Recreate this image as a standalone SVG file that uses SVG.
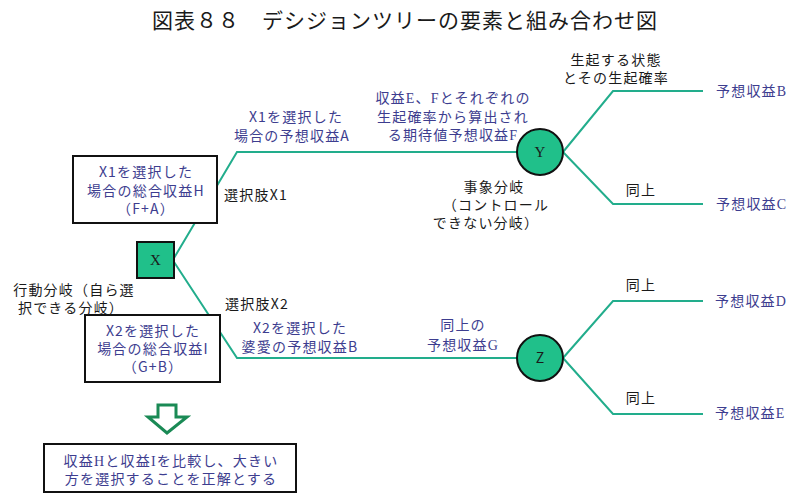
<svg xmlns="http://www.w3.org/2000/svg" width="800" height="495" viewBox="0 0 800 495">
<style>
text{font-family:"Noto Sans CJK JP","Noto Sans",sans-serif;font-size:14px;letter-spacing:1.2px;}
.b{fill:#3d3d8f;}
.k{fill:#1a1a1a;}
.m{text-anchor:middle;}
.s{font-family:"Liberation Serif",serif;}
.ln{fill:none;stroke:#22ad8c;stroke-width:2;}
.node{fill:#20c08a;stroke:#111;stroke-width:2;}
.box{fill:#fff;stroke:#111;stroke-width:2;}
</style>
<rect width="800" height="495" fill="#fff"/>
<text x="405" y="28" class="m k" style="font-size:21px;letter-spacing:1px">図表８８　デシジョンツリーの要素と組み合わせ図</text>
<g id="connectors">
<polyline class="ln" points="174,258 237,152 517,152"/>
<polyline class="ln" points="174,262 237,358 517,358"/>
<polyline class="ln" points="563,152 613,91 703,91"/>
<polyline class="ln" points="563,152 613,204 703,204"/>
<polyline class="ln" points="563,358 613,301 703,301"/>
<polyline class="ln" points="563,358 613,414 703,414"/>
</g>
<g id="nodeX">
<rect class="node" x="137" y="242" width="37" height="36"/>
<text x="155.5" y="265" class="m k s" style="font-size:15px;letter-spacing:0">X</text>
</g>
<g id="nodeY">
<circle class="node" cx="540" cy="152" r="23"/>
<text x="540" y="157" class="m k s" style="font-size:15px;letter-spacing:0">Y</text>
</g>
<g id="nodeZ">
<circle class="node" cx="540" cy="358" r="23"/>
<text x="540" y="363" class="m k" style="letter-spacing:0">Z</text>
</g>
<g id="boxH">
<rect class="box" x="73" y="156" width="144" height="67"/>
<text x="146" y="177" class="m b">X1を選択した</text>
<text x="146" y="196" class="m b">場合の総合収益H</text>
<text x="146" y="214" class="m b">（F+A）</text>
</g>
<g id="boxI">
<rect class="box" x="85" y="315" width="135" height="67"/>
<text x="153" y="336" class="m b">X2を選択した</text>
<text x="153" y="354" class="m b">場合の総合収益I</text>
<text x="153" y="372" class="m b">（G+B）</text>
</g>
<g id="arrow">
<path d="M158,405 H176 V417 H187 L167,433 L148,417 H158 Z" fill="#fff" stroke="#1a8a55" stroke-width="3" stroke-linejoin="miter"/>
</g>
<g id="conclusion">
<rect class="box" x="44" y="444" width="252" height="48"/>
<text x="171" y="466" class="m b">収益<tspan class="s">H</tspan>と収益<tspan class="s">I</tspan>を比較し、大きい</text>
<text x="171" y="484" class="m b">方を選択することを正解とする</text>
</g>
<g id="labels">
<text x="296" y="122" class="m b">X1を選択した</text>
<text x="292" y="141" class="m b">場合の予想収益A</text>
<text x="453" y="103" class="m b">収益<tspan class="s">E</tspan>、<tspan class="s">F</tspan>とそれぞれの</text>
<text x="453" y="122" class="m b">生起確率から算出され</text>
<text x="453" y="140" class="m b">る期待値予想収益<tspan class="s">F</tspan></text>
<text x="256" y="200" class="m k">選択肢X1</text>
<text x="257" y="309" class="m k">選択肢X2</text>
<text x="74" y="295" class="m k">行動分岐（自ら選</text>
<text x="71" y="313" class="m k">択できる分岐）</text>
<text x="300" y="333" class="m b">X2を選択した</text>
<text x="300" y="352" class="m b">婆愛の予想収益B</text>
<text x="463" y="330" class="m b">同上の</text>
<text x="463" y="350" class="m b">予想収益<tspan class="s">G</tspan></text>
<text x="494" y="192" class="m k">事象分岐</text>
<text x="496" y="210" class="m k">（コントロール</text>
<text x="486" y="228" class="m k">できない分岐）</text>
<text x="616" y="65" class="m k">生起する状態</text>
<text x="616" y="83" class="m k">とその生起確率</text>
<text x="641" y="195" class="m k">同上</text>
<text x="641" y="290" class="m k">同上</text>
<text x="641" y="403" class="m k">同上</text>
<text x="716" y="96" class="b">予想収益<tspan class="s">B</tspan></text>
<text x="716" y="209" class="b">予想収益<tspan class="s">C</tspan></text>
<text x="715" y="306" class="b">予想収益<tspan class="s">D</tspan></text>
<text x="715" y="418" class="b">予想収益<tspan class="s">E</tspan></text>
</g>
</svg>
